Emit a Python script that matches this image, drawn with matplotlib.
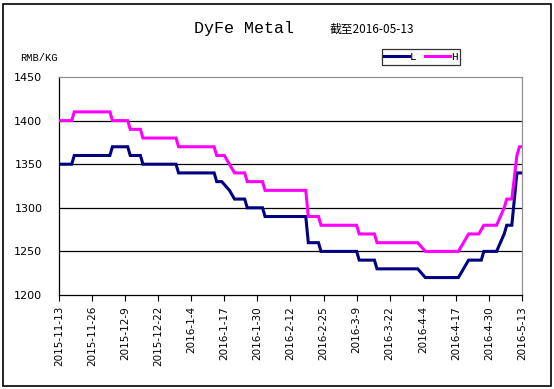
#!/usr/bin/env python3
"""DyFe Metal price range (RMB/KG), 2015-11-13 .. 2016-05-13."""

import matplotlib
matplotlib.use("Agg")
import matplotlib.pyplot as plt
from matplotlib.patches import Rectangle
import pandas as pd

# --- data: change points of the low (L) and high (H) quotes ---
L_DATES = ["2015-11-13", "2015-11-18", "2015-11-19", "2015-12-03", "2015-12-04",
           "2015-12-10", "2015-12-11", "2015-12-15", "2015-12-16", "2015-12-29",
           "2015-12-30", "2016-01-13", "2016-01-14", "2016-01-16", "2016-01-19",
           "2016-01-21", "2016-01-25", "2016-01-26", "2016-02-01", "2016-02-02",
           "2016-02-18", "2016-02-19", "2016-02-23", "2016-02-24", "2016-03-09",
           "2016-03-10", "2016-03-16", "2016-03-17", "2016-04-02", "2016-04-05",
           "2016-04-18", "2016-04-20", "2016-04-22", "2016-04-27", "2016-04-28",
           "2016-05-03", "2016-05-06", "2016-05-07", "2016-05-09", "2016-05-11",
           "2016-05-13"]
L_VALUES = [1350, 1350, 1360, 1360, 1370,
            1370, 1360, 1360, 1350, 1350,
            1340, 1340, 1330, 1330, 1320,
            1310, 1310, 1300, 1300, 1290,
            1290, 1260, 1260, 1250, 1250,
            1240, 1240, 1230, 1230, 1220,
            1220, 1230, 1240, 1240, 1250,
            1250, 1270, 1280, 1280, 1340,
            1340]

H_DATES = ["2015-11-13", "2015-11-18", "2015-11-19", "2015-12-03", "2015-12-04",
           "2015-12-10", "2015-12-11", "2015-12-15", "2015-12-16", "2015-12-29",
           "2015-12-30", "2016-01-13", "2016-01-14", "2016-01-17", "2016-01-19",
           "2016-01-21", "2016-01-25", "2016-01-26", "2016-02-01", "2016-02-02",
           "2016-02-18", "2016-02-19", "2016-02-23", "2016-02-24", "2016-03-09",
           "2016-03-10", "2016-03-16", "2016-03-17", "2016-04-02", "2016-04-05",
           "2016-04-18", "2016-04-20", "2016-04-22", "2016-04-26", "2016-04-28",
           "2016-05-03", "2016-05-06", "2016-05-07", "2016-05-09", "2016-05-11",
           "2016-05-12", "2016-05-13"]
H_VALUES = [1400, 1400, 1410, 1410, 1400,
            1400, 1390, 1390, 1380, 1380,
            1370, 1370, 1360, 1360, 1350,
            1340, 1340, 1330, 1330, 1320,
            1320, 1290, 1290, 1280, 1280,
            1270, 1270, 1260, 1260, 1250,
            1250, 1260, 1270, 1270, 1280,
            1280, 1300, 1310, 1310, 1360,
            1370, 1370]

TICK_LABELS = ["2015-11-13", "2015-11-26", "2015-12-9", "2015-12-22", "2016-1-4",
               "2016-1-17", "2016-1-30", "2016-2-12", "2016-2-25", "2016-3-9",
               "2016-3-22", "2016-4-4", "2016-4-17", "2016-4-30", "2016-5-13"]
Y_TICKS = [1200, 1250, 1300, 1350, 1400, 1450]

TITLE = "DyFe Metal"
SUBTITLE = "截至2016-05-13"
UNIT = "RMB/KG"

C_L = "#000080"
C_H = "#ff00ff"


def main():
    l_dates = pd.to_datetime(L_DATES)
    h_dates = pd.to_datetime(H_DATES)
    ticks = pd.to_datetime(TICK_LABELS)

    fig = plt.figure(figsize=(5.54, 3.89), dpi=100)
    ax = fig.add_axes([59 / 554, 1 - 295 / 389, (522 - 59) / 554, (295 - 77) / 389])

    # outer frame of the chart
    fig.patches.append(Rectangle((3 / 554, 3 / 389), 548 / 554, 382 / 389,
                                 transform=fig.transFigure, fill=False,
                                 edgecolor="black", lw=1.2))

    for y in Y_TICKS[1:-1]:
        ax.axhline(y, color="black", lw=0.9, zorder=1)

    ax.plot(l_dates, L_VALUES, color=C_L, lw=2.2, label="L", zorder=3,
            solid_joinstyle="miter")
    ax.plot(h_dates, H_VALUES, color=C_H, lw=2.2, label="H", zorder=3,
            solid_joinstyle="miter")

    ax.set_xlim(ticks[0], ticks[-1])
    ax.set_ylim(Y_TICKS[0], Y_TICKS[-1])
    ax.set_yticks(Y_TICKS)
    ax.set_xticks(ticks)
    ax.set_xticklabels(TICK_LABELS, rotation=90, fontsize=7.5,
                       va="top", ha="center")
    ax.tick_params(axis="x", direction="out", length=4, width=0.8, pad=4)
    ax.tick_params(axis="y", length=0, pad=12, labelsize=8)

    for side in ("left", "bottom"):
        ax.spines[side].set_color("black")
        ax.spines[side].set_linewidth(0.9)
    for side in ("top", "right"):
        ax.spines[side].set_color("#909090")
        ax.spines[side].set_linewidth(0.9)

    fig.text(244 / 554, 1 - 28 / 389, TITLE, fontsize=12,
             family="Liberation Mono", ha="center", va="center")
    fig.text(330 / 554, 1 - 29 / 389, SUBTITLE, fontsize=8.5,
             family=["Noto Sans CJK SC", "DejaVu Sans"], ha="left", va="center")
    fig.text(20 / 554, 1 - 58 / 389, UNIT, fontsize=7.5,
             family="Liberation Mono", ha="left", va="center")

    leg = fig.legend(loc="center", bbox_to_anchor=(421 / 554, 1 - 57 / 389),
                     ncol=2, frameon=True, fancybox=False, handlelength=2.2,
                     handletextpad=0.1, columnspacing=0.8, borderpad=0.25,
                     prop={"family": "Liberation Mono", "size": 8})
    leg.get_frame().set_edgecolor("black")
    leg.get_frame().set_linewidth(0.9)

    fig.savefig("out.png", dpi=100)


if __name__ == "__main__":
    main()
